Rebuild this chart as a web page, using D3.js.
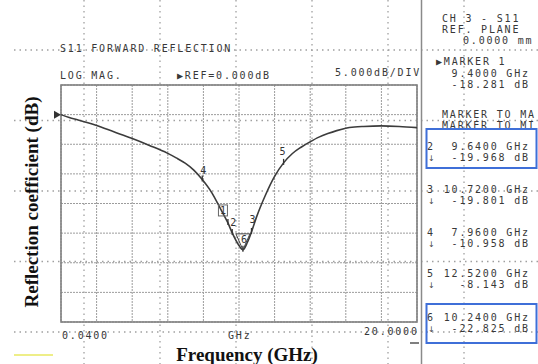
<!DOCTYPE html>
<html><head><meta charset="utf-8">
<script src="https://cdn.jsdelivr.net/npm/d3@7"></script>
<style>
html,body{margin:0;padding:0;background:#fff;}
svg{display:block;}
.mono{font-family:"DejaVu Sans Mono",monospace;font-size:10px;letter-spacing:1.8px;fill:#383838;}
.ttl{font-family:"Liberation Serif","Times New Roman",serif;font-weight:bold;font-size:19px;fill:#111;}
</style></head>
<body>
<script>
// ---- data ----
const freqGHz = [0.04,0.5,1.0,2.0,3.0,4.0,5.0,6.0,6.5,7.0,7.5,7.96,8.5,9.0,9.4,9.64,10.0,10.24,10.5,10.72,11.0,11.5,12.0,12.52,13.0,13.5,14.0,14.5,15.0,15.5,16.0,16.5,17.0,18.0,19.0,20.0];
const s11dB   = [0,-0.5,-0.9,-1.8,-2.9,-4.0,-5.2,-6.5,-7.3,-8.2,-9.4,-10.958,-13.2,-16.0,-18.281,-19.968,-22.0,-22.825,-21.5,-19.801,-17.3,-13.6,-10.5,-8.143,-6.6,-5.5,-4.6,-3.8,-3.2,-2.7,-2.3,-2.1,-2.0,-1.9,-2.0,-2.2];
const markerIds   = [1,2,3,4,5,6];
const markerFreqs = [9.40,9.64,10.72,7.96,12.52,10.24];
const markerDB    = [-18.281,-19.968,-19.801,-10.958,-8.143,-22.825];
const xDomain = [0.04,20];
const yDomain = [5,-35];      // REF = 0 dB, 5 dB/div, 8 divisions
const xTickLabels = ["0.0400","GHz","20.0000"];
const headerLines = ["CH 3 - S11","REF. PLANE","0.0000 mm"];
const searchLines = ["MARKER TO MA","MARKER TO MI"];

const W=538,H=364;
const svg=d3.select("body").append("svg").attr("width",W).attr("height",H);
const x=d3.scaleLinear().domain(xDomain).range([61,417]);
const y=d3.scaleLinear().domain(yDomain).range([85,322]);

// paper dotted grid
const dotted="#a0a0a0";
[50,120.5,191,261.5,332].forEach(v=>svg.append("line").attr("x1",14).attr("x2",W).attr("y1",v).attr("y2",v)
  .attr("stroke",dotted).attr("stroke-width",1.3).attr("stroke-dasharray","1.5,4"));
[84,160,236,312,388,464].forEach(v=>svg.append("line").attr("y1",0).attr("y2",H).attr("x1",v).attr("x2",v)
  .attr("stroke",dotted).attr("stroke-width",1.3).attr("stroke-dasharray","1.5,4"));

// divider
svg.append("line").attr("x1",421.5).attr("x2",421.5).attr("y1",0).attr("y2",H).attr("stroke","#8a8a8a").attr("stroke-width",1.5);

// inner grid
const g=svg.append("g");
const xs=d3.range(0,11).map(i=>xDomain[0]+i*(xDomain[1]-xDomain[0])/10);
const ys=d3.range(yDomain[0],yDomain[1]-1,-5);
g.selectAll(".gv").data(xs).join("line").attr("x1",d=>x(d)).attr("x2",d=>x(d)).attr("y1",y(yDomain[0])).attr("y2",y(yDomain[1]))
  .attr("stroke","#9c9c9c").attr("stroke-width",1).attr("stroke-dasharray","2,1");
g.selectAll(".gh").data(ys).join("line").attr("y1",d=>y(d)).attr("y2",d=>y(d)).attr("x1",x(xDomain[0])).attr("x2",x(xDomain[1]))
  .attr("stroke","#9c9c9c").attr("stroke-width",1).attr("stroke-dasharray","2,1");
g.append("rect").attr("x",x(xDomain[0])).attr("y",y(yDomain[0])).attr("width",x(xDomain[1])-x(xDomain[0])).attr("height",y(yDomain[1])-y(yDomain[0]))
  .attr("fill","none").attr("stroke","#808080").attr("stroke-width",1.6);

// ref triangle
const ry=y(0);
svg.append("path").attr("d",`M${x(xDomain[0])-7},${ry-4}L${x(xDomain[0])},${ry}L${x(xDomain[0])-7},${ry+4}Z`).attr("fill","#333");

// curve
const pts=freqGHz.map((f,i)=>[f,s11dB[i]]);
svg.append("path").datum(pts).attr("d",d3.line().x(d=>x(d[0])).y(d=>y(d[1])).curve(d3.curveMonotoneX))
  .attr("fill","none").attr("stroke","#3c3c3c").attr("stroke-width",1.6);

// markers on trace
const lab={1:[-5,-12],2:[1,-10],3:[1,-12],4:[1,-9],5:[-1,-11],6:[1,-10]};
markerIds.forEach((id,i)=>{
  const px=x(markerFreqs[i]),py=y(markerDB[i]);
  svg.append("line").attr("x1",px).attr("x2",px).attr("y1",py-4).attr("y2",py+2).attr("stroke","#333").attr("stroke-width",1.3);
  const [dx,dy]=lab[id];
  if(id===6){
    svg.append("path").attr("d",`M${px-7},${py-16}L${px+7},${py-16}L${px},${py}Z`).attr("fill","none").attr("stroke","#444").attr("stroke-width",1);
  }
  if(id===1){
    svg.append("rect").attr("x",px+dx-4.5).attr("y",py+dy-6).attr("width",9).attr("height",11).attr("fill","none").attr("stroke","#666").attr("stroke-width",1);
  }
  svg.append("text").attr("x",px+dx).attr("y",py+dy+3.5).attr("text-anchor","middle")
    .style("font-family","DejaVu Sans Mono,monospace").style("font-size","10px").style("fill","#333").text(id);
});

// header texts
const t=(s,xx,yy)=>svg.append("text").attr("class","mono").attr("x",xx).attr("y",yy).text(s);
t("S11 FORWARD REFLECTION",60,52);
t("LOG MAG.",60,79);
t("\u25B6REF=0.000dB",177,79);
t("5.000dB/DIV",335,76);

t(headerLines[0],442,22);
t(headerLines[1],442,33);
t(headerLines[2],463,44);

// active marker
const f4=d=>d.toFixed(4)+" GHz", d3f=d=>d.toFixed(3)+" dB";
t("\u25B6MARKER "+markerIds[0],436,65);
const tr=(s,xx,yy)=>svg.append("text").attr("class","mono").attr("x",xx+1.8).attr("y",yy).attr("text-anchor","end").text(s);
tr(f4(markerFreqs[0]),528,76.5);
tr(d3f(markerDB[0]),528,87.5);
t(searchLines[0],442,118);
t(searchLines[1],442,128.5);

const rowY={2:150,3:193,4:236,5:277,6:321};
markerIds.slice(1).forEach((id,k)=>{
  const i=k+1, by=rowY[id];
  t(String(id),427,by);
  tr(f4(markerFreqs[i]),528,by);
  svg.append("text").attr("x",428).attr("y",by+11).style("font-family","DejaVu Sans,sans-serif").style("font-size","8px").style("fill","#444").text("\u2193");
  tr(d3f(markerDB[i]),528,by+11);
});
// blue boxes
[[2,129],[6,304]].forEach(([id,yy])=>svg.append("rect").attr("x",426.5).attr("y",yy).attr("width",110).attr("height",39)
  .attr("fill","none").attr("stroke","#3f6fd8").attr("stroke-width",2));

// axis labels
t(xTickLabels[0],62,339);
t(xTickLabels[1],228,339);
t(xTickLabels[2],364,335);
svg.append("line").attr("x1",410).attr("x2",419).attr("y1",343).attr("y2",343).attr("stroke","#555").attr("stroke-width",1.5);
svg.append("line").attr("x1",14).attr("x2",53).attr("y1",355).attr("y2",355).attr("stroke","#eeee88").attr("stroke-width",2);

svg.append("text").attr("class","ttl").attr("x",247).attr("y",361).attr("text-anchor","middle").text("Frequency (GHz)");
svg.append("text").attr("class","ttl").attr("transform","translate(38,202) rotate(-90)").attr("text-anchor","middle").text("Reflection coefficient (dB)");
</script>
</body></html>
